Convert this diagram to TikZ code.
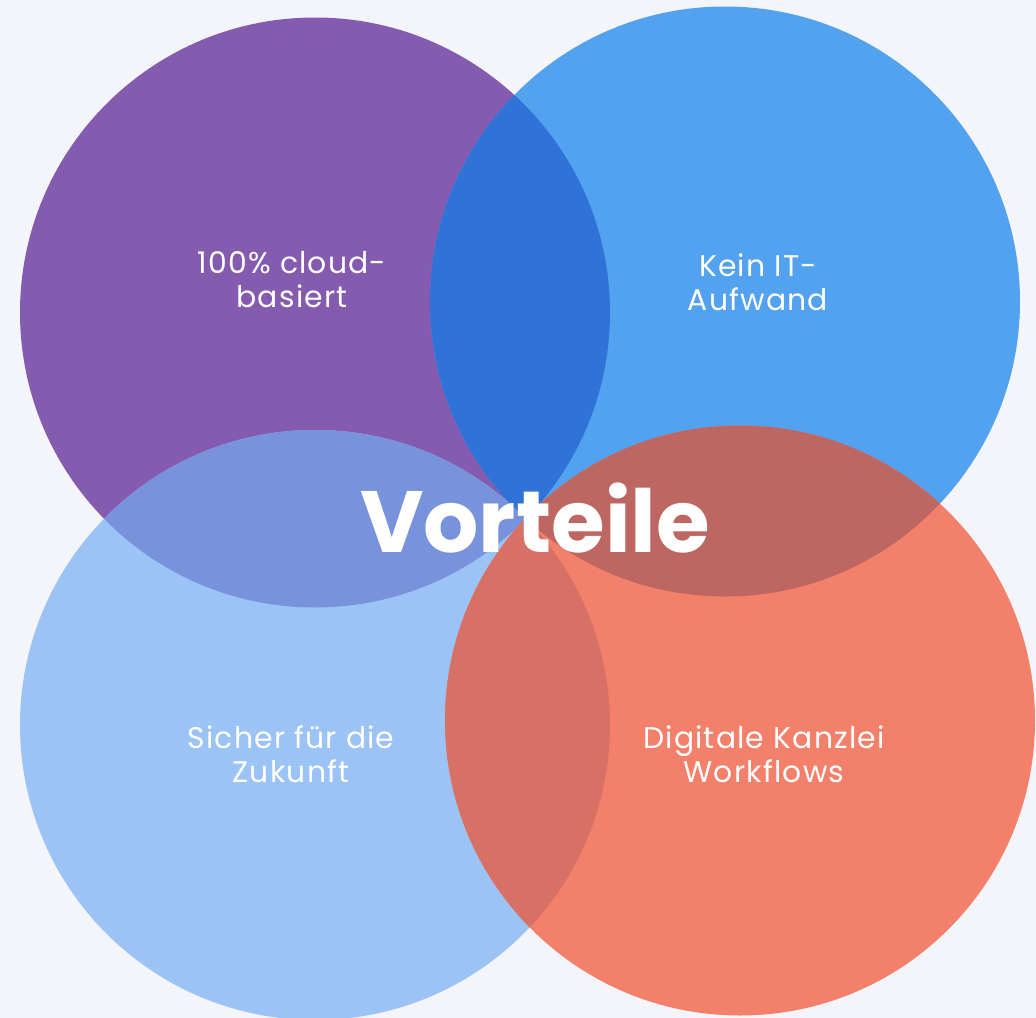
\documentclass[tikz,border=0pt]{standalone}
\usepackage{fontspec}
\setmainfont{Poppins}
\usepackage{xcolor}
\usetikzlibrary{positioning}
\definecolor{bgcol}{HTML}{F4F5FA}
\definecolor{purplecol}{HTML}{845BAE}
\definecolor{bluecol}{HTML}{52A2EF}
\definecolor{lightcol}{HTML}{9CC3F5}
\definecolor{orangecol}{HTML}{F3806A}
\definecolor{pbcol}{HTML}{2F73D8}
\definecolor{plcol}{HTML}{7893DC}
\definecolor{bocol}{HTML}{BD6662}
\definecolor{locol}{HTML}{D77165}
\tikzset{
  venntext/.style={text=white, align=center, font=\fontsize{17}{19.3}\selectfont\addfontfeatures{LetterSpace=4}},
  venntitle/.style={text=white, font=\fontsize{49.5}{52}\selectfont\bfseries}
}

\begin{document}
\begin{tikzpicture}[x=0.02cm, y=-0.02cm]
	\clip (0,0) rectangle (1036,1018);
	\fill[bgcol] (0,0) rectangle (1036,1018);
	\coordinate (P) at (315,312.5);
	\coordinate (B) at (725,301.5);
	\coordinate (L) at (315,725);
	\coordinate (O) at (740,720.5);
	\fill[purplecol] (P) circle [radius=295];
	\fill[bluecol] (B) circle [radius=295];
	\fill[lightcol] (L) circle [radius=295];
	\fill[orangecol] (O) circle [radius=295];
	\begin{scope}
		\clip (P) circle [radius=295];
		\fill[pbcol] (B) circle [radius=295];
		\fill[plcol] (L) circle [radius=295];
	\end{scope}
	\begin{scope}
		\clip (O) circle [radius=295];
		\fill[bocol] (B) circle [radius=295];
		\fill[locol] (L) circle [radius=295];
	\end{scope}
	\node (cloud) at (292,280) [venntext] {100\% cloud-\\basiert};
	\node (itfree) at (758,282) [venntext] {Kein IT-\\Aufwand};
	\node (future) at (291,754) [venntext] {Sicher für die\\Zukunft};
	\node (flows) at (764,754) [venntext] {Digitale Kanzlei\\Workflows};
	\node (title) at (535,552) [venntitle, anchor=base] {Vorteile};
\end{tikzpicture}
\end{document}
